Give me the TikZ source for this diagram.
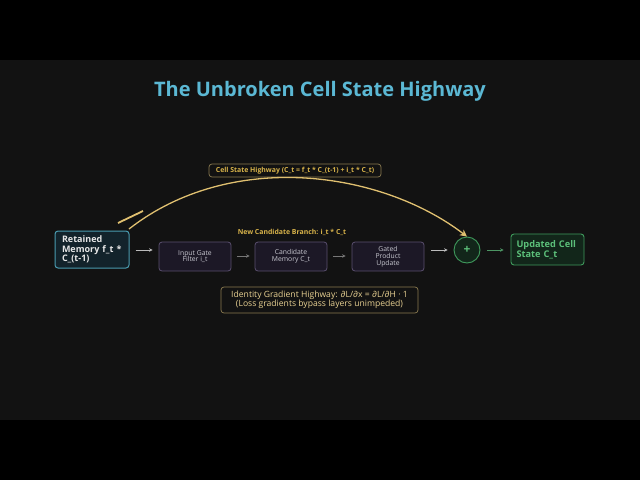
\documentclass[tikz,border=0pt]{standalone}
\usepackage{fontspec}
\setmainfont{Open Sans}
\usetikzlibrary{arrows.meta,positioning}
\definecolor{bgout}{HTML}{000000}
\definecolor{bgin}{HTML}{121212}
\definecolor{titlec}{HTML}{5BB8D4}
\definecolor{tealfill}{HTML}{13232B}
\definecolor{tealline}{HTML}{4A9BB0}
\definecolor{purfill}{HTML}{1C1826}
\definecolor{purline}{HTML}{5A4F6E}
\definecolor{grnfill}{HTML}{12261A}
\definecolor{grnline}{HTML}{3F9A5C}
\definecolor{grntext}{HTML}{5CC07A}
\definecolor{gold}{HTML}{E0C070}
\definecolor{goldtext}{HTML}{D8B34A}
\definecolor{goldline}{HTML}{8A7A50}
\definecolor{lighttext}{HTML}{E8E8E8}
\definecolor{softtext}{HTML}{C8C8D0}
\definecolor{arrowc}{HTML}{BBBBBB}
\definecolor{arrowd}{HTML}{777777}
\tikzset{
  x=1pt,y=-1pt,
  startbox/.style={draw=tealline,fill=tealfill,line width=1pt,rounded corners=3pt,
    minimum width=74pt,minimum height=37pt,text width=60pt,align=left,
    font=\fontsize{9}{9.5}\selectfont\bfseries,text=lighttext,inner sep=0pt},
  procbox/.style={draw=purline,fill=purfill,line width=0.8pt,rounded corners=3pt,
    minimum width=72pt,minimum height=29pt,align=center,
    font=\fontsize{6.8}{6.8}\selectfont,text=softtext,inner sep=0pt},
  endbox/.style={draw=grnline,fill=grnfill,line width=0.9pt,rounded corners=3pt,
    minimum width=73pt,minimum height=31pt,text width=62pt,align=left,
    font=\fontsize{9.2}{9.5}\selectfont\bfseries,text=grntext,inner sep=0pt},
  sumnode/.style={circle,draw=grnline,fill=grnfill,line width=0.9pt,minimum size=26pt,
    inner sep=0pt,text=grntext,font=\fontsize{12}{12}\selectfont\bfseries},
  labbox/.style={draw=goldline,rounded corners=3pt,line width=0.7pt,inner sep=2pt},
  flow/.style={-{Stealth[length=3.5pt,width=3.5pt]},line width=0.9pt},
}
\begin{document}
\begin{tikzpicture}
\fill[bgout] (0,0) rectangle (640,480);
\fill[bgin] (0,60) rectangle (640,420);
\useasboundingbox (0,0) rectangle (640,480);

\node[font=\fontsize{20}{22}\selectfont\bfseries,text=titlec] (title) at (320,91) {The Unbroken Cell State Highway};

\node[startbox] (ret) at (92,249.5) {Retained\\Memory f\_t *\\C\_(t-1)};
\node[procbox] (inp) at (195,256.5) {Input Gate\\Filter i\_t};
\node[procbox] (cand) at (291,256.5) {Candidate\\Memory C\_t};
\node[procbox] (gated) at (388,256.5) {Gated\\Product\\Update};
\node[sumnode] (sum) at (467,250) {+};
\node[endbox] (upd) at (547.5,249.5) {Updated Cell\\State C\_t};

\draw[flow,draw=arrowc] ([xshift=6pt]ret.east |- 0,250) coordinate (a1) -- ([xshift=-6pt]inp.west |- 0,250);
\draw[flow,draw=arrowd] ([xshift=6pt]inp.east |- 0,256) -- ([xshift=-5pt]cand.west |- 0,256);
\draw[flow,draw=arrowd] ([xshift=6pt]cand.east |- 0,256) -- ([xshift=-6pt]gated.west |- 0,256);
\draw[flow,draw=arrowc] ([xshift=7pt]gated.east |- 0,250) -- ([xshift=-6pt]sum.west);
\draw[flow,draw=grnline!80!gray] ([xshift=7pt]sum.east) -- ([xshift=-7pt]upd.west |- 0,250);

\node[font=\fontsize{6.9}{7}\selectfont\bfseries,text=goldtext] (candlab) at (292,232) {New Candidate Branch: i\_t * C\_t};

\node[labbox,font=\fontsize{6.9}{7}\selectfont\bfseries,text=goldtext,minimum width=172pt,minimum height=13pt] (hwlab) at (295,170.5) {Cell State Highway (C\_t = f\_t * C\_(t-1) + i\_t * C\_t)};

\draw[gold,line width=1.3pt,-{Stealth[length=7pt,width=7pt]}] (129,229) .. controls (230,150) and (380,170) .. (sum.north);
\coordinate (tk1) at (118,223);
\coordinate (tk2) at (143,211);
\draw[gold,line width=1.8pt] (tk1) -- (tk2);

\node[labbox,font=\fontsize{8.6}{9.2}\selectfont,text=goldtext!60!white,align=center,minimum width=197pt,minimum height=26pt] (grad) at (319.5,300) {Identity Gradient Highway: ∂L/∂x = ∂L/∂H · 1\\(Loss gradients bypass layers unimpeded)};
\end{tikzpicture}
\end{document}
